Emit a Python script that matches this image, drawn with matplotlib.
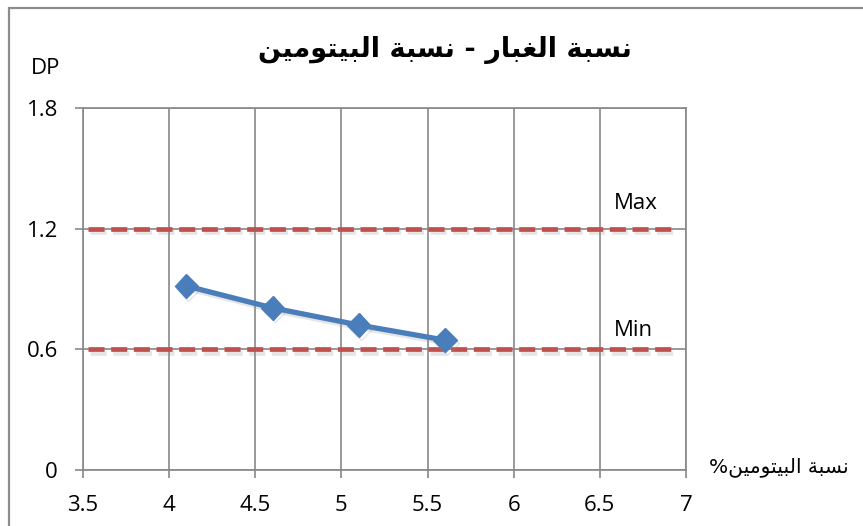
import matplotlib
matplotlib.use("Agg")
import matplotlib.pyplot as plt
import matplotlib.patheffects as pe
from matplotlib.patches import Rectangle

# ---- data ----
bitumen = [4.1, 4.6, 5.1, 5.6]
dust_ratio = [0.915, 0.806, 0.721, 0.646]
max_x = [3.53, 6.93]
max_y = [1.2, 1.2]
min_x = [3.53, 6.95]
min_y = [0.6, 0.6]
x_ticks = [3.5, 4, 4.5, 5, 5.5, 6, 6.5, 7]
x_tick_labels = ["3.5", "4", "4.5", "5", "5.5", "6", "6.5", "7"]
y_ticks = [0, 0.6, 1.2, 1.8]
y_tick_labels = ["0", "0.6", "1.2", "1.8"]
title_text = "نسبة الغبار - نسبة البيتومين"
xlabel_text = "نسبة البيتومين%"
ylabel_text = "DP"

# ---- minimal Arabic shaping (presentation forms) ----
FORMS = {  # iso, fin, ini, med
    'ا': ('\uFE8D', '\uFE8E', None, None),
    'ب': ('\uFE8F', '\uFE90', '\uFE91', '\uFE92'),
    'ة': ('\uFE93', '\uFE94', None, None),
    'ت': ('\uFE95', '\uFE96', '\uFE97', '\uFE98'),
    'ر': ('\uFEAD', '\uFEAE', None, None),
    'س': ('\uFEB1', '\uFEB2', '\uFEB3', '\uFEB4'),
    'غ': ('\uFECD', '\uFECE', '\uFECF', '\uFED0'),
    'ل': ('\uFEDD', '\uFEDE', '\uFEDF', '\uFEE0'),
    'م': ('\uFEE1', '\uFEE2', '\uFEE3', '\uFEE4'),
    'ن': ('\uFEE5', '\uFEE6', '\uFEE7', '\uFEE8'),
    'و': ('\uFEED', '\uFEEE', None, None),
    'ي': ('\uFEF1', '\uFEF2', '\uFEF3', '\uFEF4'),
}


def shape(s):
    out = []
    for i, c in enumerate(s):
        if c not in FORMS:
            out.append(c)
            continue
        prev = s[i - 1] if i > 0 else None
        nxt = s[i + 1] if i + 1 < len(s) else None
        join_prev = prev in FORMS and FORMS[prev][2] is not None
        join_next = nxt in FORMS and FORMS[c][2] is not None
        iso, fin, ini, med = FORMS[c]
        if join_prev and join_next:
            out.append(med)
        elif join_prev:
            out.append(fin)
        elif join_next:
            out.append(ini)
        else:
            out.append(iso)
    return ''.join(out)[::-1]


W, H = 863, 526
fig = plt.figure(figsize=(W / 100, H / 100), dpi=100)
fig.patch.set_facecolor("white")

# outer chart frame
fig.patches.append(Rectangle((9 / W, -0.05), 1.2, 1 - 8 / H + 0.05,
                             transform=fig.transFigure, fill=False,
                             edgecolor="#8c8c8c", linewidth=1.6))

ax = fig.add_axes([83 / W, 1 - 470 / H, (686 - 83) / W, (470 - 108) / H])
ax.set_xlim(3.5, 7)
ax.set_ylim(0, 1.8)

grid_c = "#878787"
ax.set_xticks(x_ticks)
ax.set_xticklabels(x_tick_labels)
ax.set_yticks(y_ticks)
ax.set_yticklabels(y_tick_labels)
ax.grid(True, color=grid_c, linewidth=1.2)
ax.set_axisbelow(True)
for sp in ax.spines.values():
    sp.set_color(grid_c)
    sp.set_linewidth(1.2)
ax.tick_params(axis="both", direction="out", length=6, width=1.2,
               color=grid_c, labelsize=16, labelcolor="black")
ax.tick_params(axis="x", pad=12)
ax.tick_params(axis="y", pad=12)
for lab in ax.get_xticklabels() + ax.get_yticklabels():
    lab.set_fontfamily("Open Sans")

red = "#C0504D"
shadow = [pe.SimpleLineShadow(offset=(1.5, -2.5), shadow_color="#999999", alpha=0.25), pe.Normal()]
for xs, ys in ((max_x, max_y), (min_x, min_y)):
    ax.plot(xs, ys, color=red, linewidth=3.4, dashes=(3.4, 1.4),
            path_effects=shadow, solid_capstyle="butt", zorder=3)

ax.plot(bitumen, dust_ratio, color="#4A7EBB", linewidth=3.8, marker="D",
        markersize=12, markeredgecolor="#4A7EBB", zorder=4,
        path_effects=[pe.SimpleLineShadow(offset=(1.5, -2), shadow_color="#999999", alpha=0.25), pe.Normal()])

ax.text(3.5 + (636 - 83) / 603 * 3.5, 1.2 + (229 - 204) / 201.1,
        "Max", fontsize=16, fontfamily="Open Sans", ha="center", va="center")
ax.text(3.5 + (633 - 83) / 603 * 3.5, 0.6 + (350 - 331) / 201.1,
        "Min", fontsize=16, fontfamily="Open Sans", ha="center", va="center")

fig.text(445 / W, 1 - 50 / H, shape(title_text), fontsize=19.5, fontweight="bold",
         family=["DejaVu Sans"], ha="center", va="center")
fig.text(46 / W, 1 - 68 / H, ylabel_text, fontsize=16, family=["Open Sans"],
         ha="center", va="center")
fig.text(779 / W, 1 - 467 / H, shape(xlabel_text), fontsize=14.5,
         family=["DejaVu Sans"], ha="center", va="center")

fig.savefig("out.png", dpi=100)
